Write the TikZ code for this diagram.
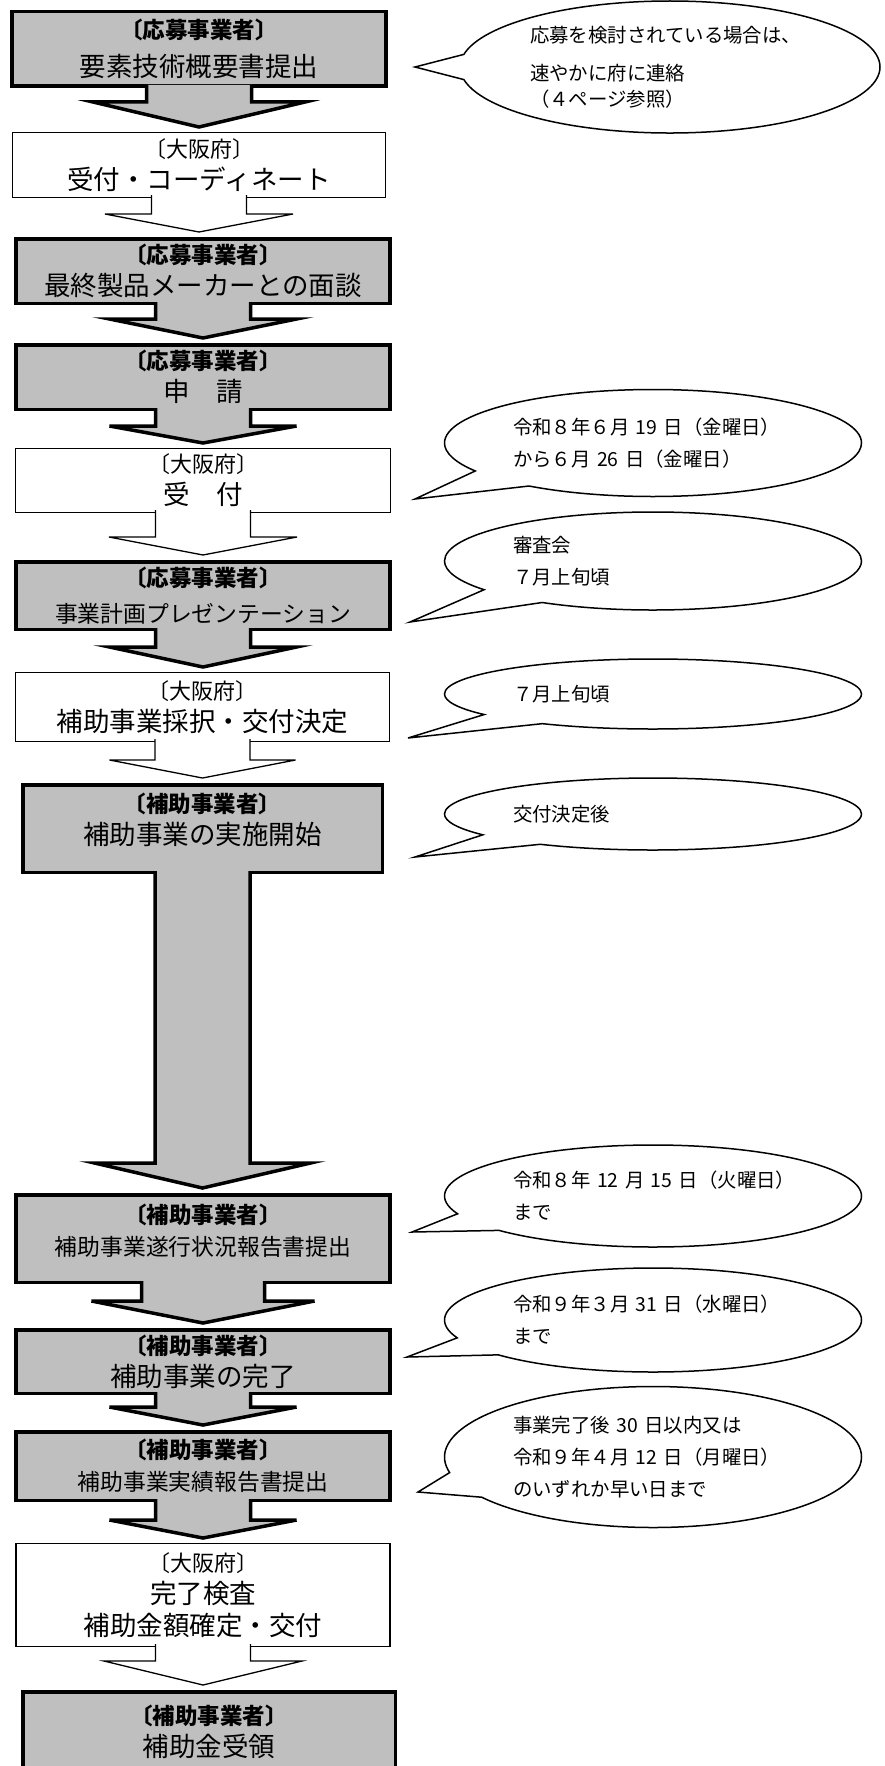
\documentclass[tikz,border=0pt]{standalone}
\usepackage{fontspec}
\setmainfont{Noto Sans CJK JP}
\usetikzlibrary{calc,shapes.callouts}
\definecolor{boxgray}{RGB}{191,191,191}
\tikzset{graybox/.style={draw,line width=3.5pt,fill=boxgray,minimum width=374pt,inner sep=0pt,align=center,font=\fontsize{26.5}{32}\selectfont},
whitebox/.style={draw,line width=1.3pt,fill=white,minimum width=374pt,inner sep=0pt,align=center,font=\fontsize{26.5}{32}\selectfont},
boxtext/.style={inner sep=0pt,align=center,font=\fontsize{26.5}{32}\selectfont},
grayarrow/.style={draw,line width=3.5pt,fill=boxgray},
whitearrow/.style={draw,line width=1.3pt,fill=white},
note/.style={ellipse callout,draw,line width=1.5pt,fill=white,minimum width=417pt,text width=280pt,align=left,inner sep=0pt,callout pointer arc=22,font=\fontsize{19.4}{32}\selectfont}}
\newcommand{\hd}[1]{{\fontsize{22.5}{32}\selectfont\bfseries #1}}
\newcommand{\hdplain}[1]{{\fontsize{22}{32}\selectfont #1}}
\newcommand{\sm}[1]{{\fontsize{22.8}{32}\selectfont #1}}
% block arrow: from, to, stem half width, head half width, head height
\newcommand{\flowarrow}[6][]{\draw[#1] let \p1=(#2.south), \p2=(#3.north) in (\x1-#4,\y1+3) -- (\x1-#4,\y2+5+#6) -- (\x1-#5,\y2+5+#6) -- (\x1,\y2+5) -- (\x1+#5,\y2+5+#6) -- (\x1+#4,\y2+5+#6) -- (\x1+#4,\y1+3);}

\begin{document}
\begin{tikzpicture}[x=1pt,y=-1pt]
\useasboundingbox (0,0) rectangle (884,1766);
\clip (0,0) rectangle (884,1766);
% flow boxes
\node[graybox,minimum height=74.5pt] (b1) at (199,49) {\hd{〔応募事業者〕}\\[6pt]要素技術概要書提出};
\node[whitebox,minimum width=372.7pt,minimum height=64.7pt] (b2) at (199,165) {\hdplain{〔大阪府〕}\\受付・コーディネート};
\node[graybox,minimum height=64.5pt] (b3) at (203,271) {\hd{〔応募事業者〕}\\最終製品メーカーとの面談};
\node[graybox,minimum height=64.5pt] (b4) at (203,377) {\hd{〔応募事業者〕}\\申　請};
\node[whitebox,minimum width=374.7pt,minimum height=63.7pt] (b5) at (203,480.5) {\hdplain{〔大阪府〕}\\受　付};
\node[graybox,minimum height=67.5pt] (b6) at (203,595.5) {\hd{〔応募事業者〕}\\[4pt]\sm{事業計画プレゼンテーション}};
\node[whitebox,minimum height=68.7pt] (b7) at (202.5,707) {\hdplain{〔大阪府〕}\\補助事業採択・交付決定};
\node[graybox,minimum width=359.5pt,minimum height=87.5pt] (b8) at (202.5,828.5) {};
\node[boxtext] (b8txt) at (202.5,820) {\hd{〔補助事業者〕}\\補助事業の実施開始};
\node[graybox,minimum height=87.5pt] (b9) at (203,1238.5) {};
\node[boxtext] (b9txt) at (203,1231) {\hd{〔補助事業者〕}\\\sm{補助事業遂行状況報告書提出}};
\node[graybox,minimum height=63.5pt] (b10) at (203,1361.5) {\hd{〔補助事業者〕}\\補助事業の完了};
\node[graybox,minimum height=68.5pt] (b11) at (203,1466) {\hd{〔補助事業者〕}\\\sm{補助事業実績報告書提出}};
\node[whitebox,minimum height=102.7pt] (b12) at (203,1595) {\hdplain{〔大阪府〕}\\完了検査\\補助金額確定・交付};
\node[graybox,minimum width=372.5pt,minimum height=80pt] (b13) at (209,1731.75) {\hd{〔補助事業者〕}\\補助金受領};
% arrows between boxes
\flowarrow[grayarrow]{b1}{b2}{52.5}{106}{25}
\flowarrow[whitearrow]{b2}{b3}{47.5}{94}{18}
\flowarrow[grayarrow]{b3}{b4}{47.5}{93.5}{19}
\flowarrow[grayarrow]{b4}{b5}{47.5}{93.5}{17}
\flowarrow[whitearrow]{b5}{b6}{47.5}{94}{18}
\flowarrow[grayarrow]{b6}{b7}{47.5}{93.5}{20}
\flowarrow[whitearrow]{b7}{b8}{47.5}{93}{18}
\flowarrow[grayarrow]{b8}{b9}{47.5}{108}{25}
\flowarrow[grayarrow]{b9}{b10}{61.5}{111.5}{22}
\flowarrow[grayarrow]{b10}{b11}{47.5}{93.5}{18}
\flowarrow[grayarrow]{b11}{b12}{47.5}{93.5}{18}
\flowarrow[whitearrow]{b12}{b13}{47.5}{99}{24}
% callouts
\coordinate (t1) at (415,67);
\coordinate (t2) at (415,499);
\coordinate (t3) at (410,622);
\coordinate (t4) at (408,738);
\coordinate (t5) at (415,857);
\coordinate (t6) at (412,1232);
\coordinate (t7) at (407,1357);
\coordinate (t8) at (418,1492);
\node[note,minimum width=420pt,minimum height=132pt,callout absolute pointer={(t1)}] (c1) at (670,67) {応募を検討されている場合は、\\[6pt]速やかに府に連絡\\[-6pt]（４ページ参照）};
\node[note,minimum height=107pt,callout absolute pointer={(t2)}] (c2) at (653,443) {令和８年６月~19~日（金曜日）\\から６月~26~日（金曜日）};
\node[note,minimum height=98pt,callout absolute pointer={(t3)}] (c3) at (653,561) {審査会\\７月上旬頃};
\node[note,minimum height=70pt,callout absolute pointer={(t4)}] (c4) at (653,694) {７月上旬頃};
\node[note,minimum height=72pt,callout absolute pointer={(t5)}] (c5) at (653,814) {交付決定後};
\node[note,minimum height=102pt,callout absolute pointer={(t6)}] (c6) at (653,1196) {令和８年~12~月~15~日（火曜日）\\まで};
\node[note,minimum height=104pt,callout absolute pointer={(t7)}] (c7) at (653,1320) {令和９年３月~31~日（水曜日）\\まで};
\node[note,minimum height=141pt,callout absolute pointer={(t8)}] (c8) at (653,1457) {事業完了後~30~日以内又は\\令和９年４月~12~日（月曜日）\\のいずれか早い日まで};
\end{tikzpicture}
\end{document}
